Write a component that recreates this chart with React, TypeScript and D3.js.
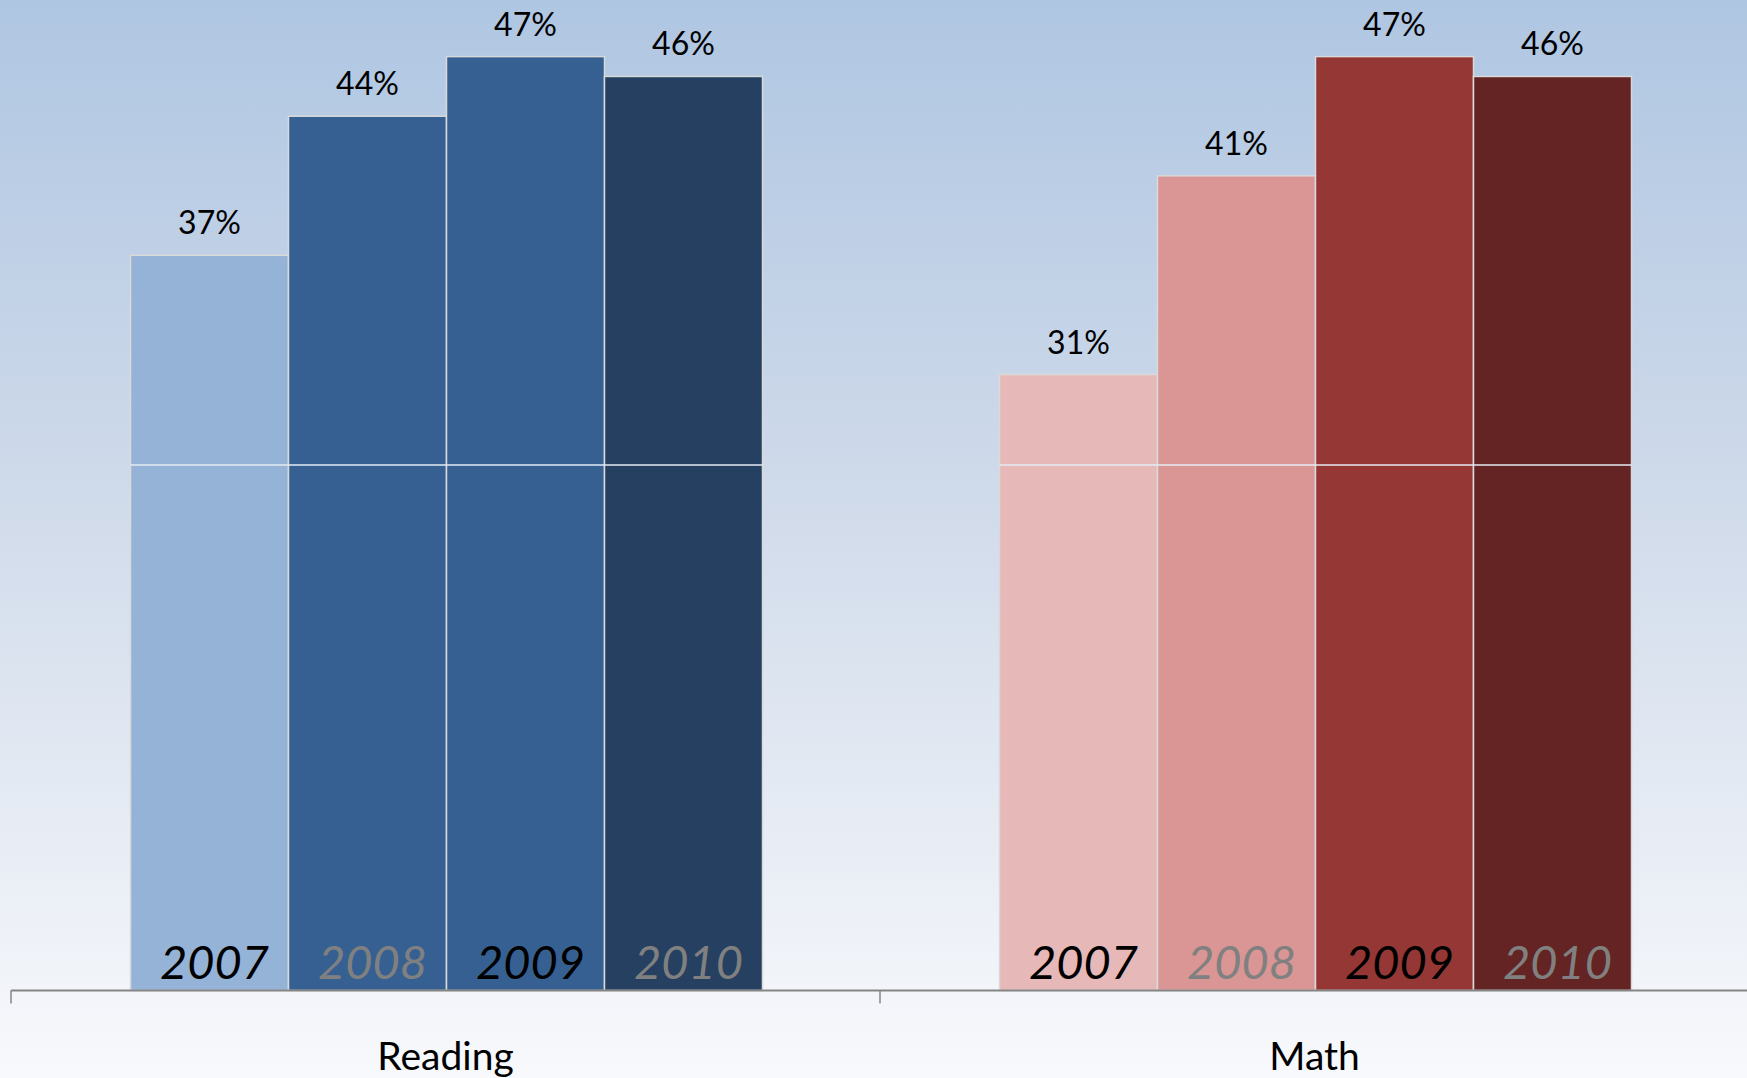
import React from "react";
import * as d3 from "d3";

const categories = ["Reading", "Math"];
const years = ["2007", "2008", "2009", "2010"];
const readingValues = [37, 44, 47, 46];
const mathValues = [31, 41, 47, 46];
const readingColors = ["#95b3d7", "#366092", "#366092", "#254061"];
const mathColors = ["#e6b9b8", "#da9694", "#953735", "#632423"];
const yearLabelColors = ["#000000", "#808080", "#000000", "#808080"];

const W = 1747;
const H = 1078;
const baseline = 990.5;

export default function App() {
  const x = d3.scaleBand<string>().domain(categories).range([11, 1749]).paddingInner(0).paddingOuter(0);
  const inner = d3.scaleBand<string>().domain(years).range([0, 632]);
  const groupOffset = (x.bandwidth() - 632) / 2 + 1;
  const y = d3.scaleLinear().domain([0, 47]).range([baseline, 56.6]);
  const seriesValues = [readingValues, mathValues];
  const seriesColors = [readingColors, mathColors];
  const splitY = y(26.45);
  const font = "Lato, 'Open Sans', sans-serif";

  return (
    <svg width={W} height={H} style={{ position: "absolute", left: 0, top: 0, display: "block" }}>
      <defs>
        <linearGradient id="bg" x1="0" y1="0" x2="0" y2="1">
          <stop offset="0" stopColor="#afc6e2" />
          <stop offset="0.45" stopColor="#cfdaea" />
          <stop offset="1" stopColor="#f8f9fc" />
        </linearGradient>
      </defs>
      <rect x={0} y={0} width={W} height={H} fill="url(#bg)" />
      {categories.map((c, ci) => {
        const gx = (x(c) ?? 0) + groupOffset;
        const vals = seriesValues[ci];
        const cols = seriesColors[ci];
        return (
          <g key={c}>
            {years.map((yr, i) => {
              const bx = gx + (inner(yr) ?? 0);
              const bw = inner.bandwidth();
              const top = y(vals[i]);
              return (
                <g key={yr}>
                  <rect x={bx} y={top} width={bw} height={baseline - top} fill={cols[i]} stroke="#d9d9d9" strokeWidth={1.5} />
                  <text x={bx + bw / 2} y={top - 21} textAnchor="middle" fontFamily={font} fontSize={32} fill="#000">
                    {vals[i]}%
                  </text>
                </g>
              );
            })}
            <line x1={gx} x2={gx + 632} y1={splitY} y2={splitY} stroke="#e4ebf5" strokeWidth={1.5} />
            {years.map((yr, i) => {
              const bx = gx + (inner(yr) ?? 0);
              const bw = inner.bandwidth();
              return (
                <text key={yr} x={bx + bw / 2 + 5} y={979} textAnchor="middle" fontFamily={font} fontStyle="italic" fontSize={47} fill={yearLabelColors[i]}>
                  {yr}
                </text>
              );
            })}
            <text x={(x(c) ?? 0) + x.bandwidth() / 2} y={1070} textAnchor="middle" fontFamily={font} fontSize={39} fill="#000">
              {c}
            </text>
          </g>
        );
      })}
      <line x1={11} x2={W} y1={baseline} y2={baseline} stroke="#868686" strokeWidth={2} />
      {[...categories.map((c) => x(c) ?? 0), 1749].map((t, i) => (
        <line key={i} x1={t} x2={t} y1={baseline} y2={baseline + 13} stroke="#868686" strokeWidth={1.5} />
      ))}
    </svg>
  );
}
